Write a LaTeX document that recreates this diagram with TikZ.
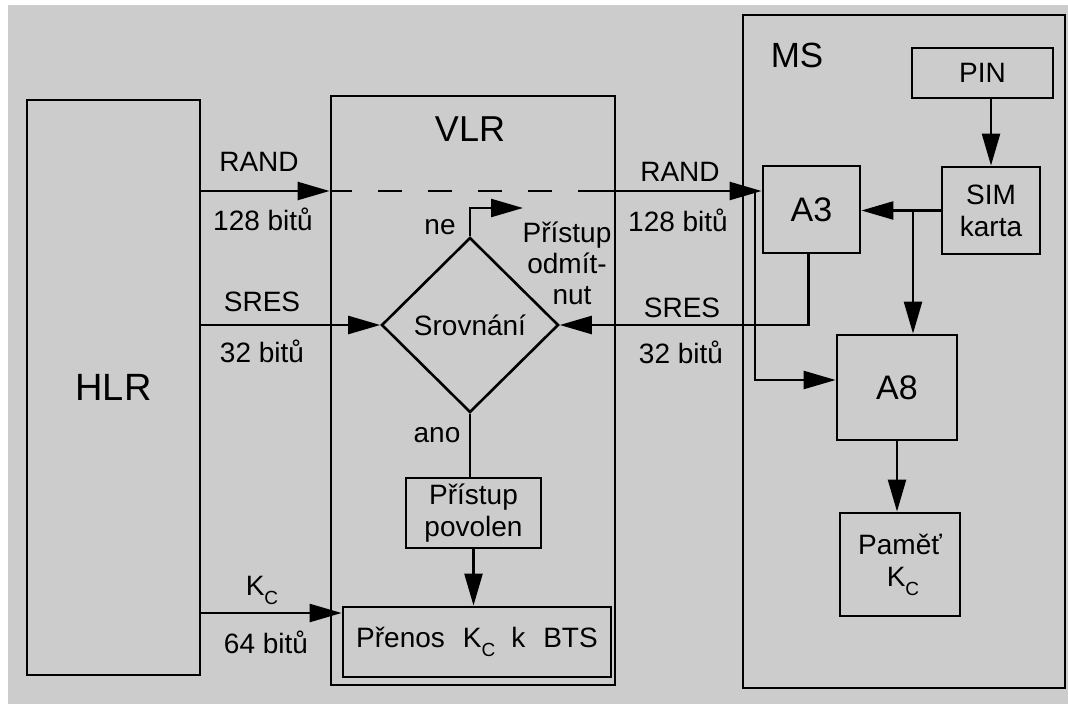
\documentclass[tikz,border=0pt]{standalone}
\usepackage{fontspec}
\setmainfont{Liberation Sans}
\usetikzlibrary{arrows.meta,shapes.geometric,calc}
\definecolor{bg}{RGB}{204,204,204}
\newcommand\Kc{K\raisebox{-0.32em}{\fontsize{19}{19}\selectfont C}}
\begin{document}
\begin{tikzpicture}[x=1pt,y=-1pt,
  box/.style={draw,line width=2.8pt,inner sep=0pt,align=center,font=\fontsize{28}{32}\selectfont},
  txt/.style={inner sep=0pt,align=center,font=\fontsize{28}{31}\selectfont},
  big/.style={inner sep=0pt,font=\fontsize{36}{40}\selectfont},
  ln/.style={line width=2.4pt},
  arr/.style={line width=2.4pt,-{Triangle[length=32pt,width=18pt]}},
  dsh/.style={line width=2.4pt,dash pattern=on 24pt off 26pt,dash phase=24pt}]
\useasboundingbox (0,0) rectangle (1068,704);
\fill[white] (0,0) rectangle (1068,704);
\fill[bg] (8,5) rectangle (1068,704);

% main boxes
\node[box,minimum width=173pt,minimum height=575pt,font=\fontsize{38}{42}\selectfont] (HLR) at (113.5,387.5) {HLR};
\node[box,minimum width=284pt,minimum height=589pt] (VLR) at (473,390.5) {};
\node[big] (VLRl) at (470,129) {VLR};
\node[box,minimum width=322pt,minimum height=673pt] (MS) at (904,351.5) {};
\node[big,font=\fontsize{35}{40}\selectfont] (MSl) at (797,55) {MS};

% MS inner
\node[box,minimum width=141pt,minimum height=50pt] (PIN) at (982.5,73) {PIN};
\node[box,minimum width=98pt,minimum height=87pt] (SIM) at (991,210.5) {SIM\\karta};
\node[box,minimum width=97pt,minimum height=87pt,font=\fontsize{34}{38}\selectfont] (A3) at (811.5,209.5) {A3};
\node[box,minimum width=120pt,minimum height=105pt,font=\fontsize{34}{38}\selectfont] (A8) at (897,387.5) {A8};
\node[box,minimum width=120pt,minimum height=103pt] (Pam) at (900,564.5) {Paměť\\\hspace*{6pt}\Kc};

% VLR inner
\node[draw,line width=2.6pt,diamond,aspect=1,inner sep=0pt,minimum width=177pt,minimum height=175pt,font=\fontsize{28}{32}\selectfont] (D) at (470,325) {Srovnání};
\node[box,minimum width=135pt,minimum height=70pt] (Pov) at (473.5,513) {Přístup\\povolen};
\node[box,minimum width=268pt,minimum height=70pt] (Pren) at (477,642) {Přenos\hspace{18pt}\Kc\hspace{16pt}k\hspace{18pt}BTS};

% labels
\node[txt] (lRand) at (259,162) {RAND};
\node[txt] (lRandb) at (263,219) {128 bitů};
\node[txt] (rRand) at (680,172) {RAND};
\node[txt] (rRandb) at (678,220) {128 bitů};
\node[txt] (lSres) at (262,302) {SRES};
\node[txt] (lSresb) at (262,351) {32 bitů};
\node[txt] (rSres) at (682,308) {SRES};
\node[txt] (rSresb) at (681,352) {32 bitů};
\node[txt] (lKc) at (262,590) {\Kc};
\node[txt] (lKcb) at (266,642) {64 bitů};
\node[txt] (ne) at (440,227) {ne};
\node[txt] (odm) at (567,263) {Přístup\\odmít-\\\hspace*{10pt}nut};
\node[txt] (ano) at (437,435) {ano};

% coordinates
\coordinate (rY) at (0,191);
\coordinate (dS) at (352,191);
\coordinate (dE) at (578,191);
\coordinate (rb) at (755,191);
\coordinate (a8y) at (0,380);
\coordinate (sb) at (913,210.5);
\coordinate (neE) at (523,208);
\coordinate (kY) at (0,613);

% connectors
\draw[arr] (HLR.east |- rY) -- (VLR.west |- rY);
\draw[ln] (VLR.west |- rY) -- (dS);
\draw[dsh] (dS) -- (dE);
\draw[arr] (dE) -- (A3.west |- rY);
\draw[arr] (rb) |- (A8.west |- a8y);
\draw[arr] (HLR.east |- D.west) -- (D.west);
\draw[arr] ($(A3.south)+(-3,0)$) |- (D.east);
\draw[arr] (SIM.west) -- (SIM.west -| A3.east);
\draw[arr] (sb) -- (sb |- A8.north);
\draw[arr] (PIN.south -| SIM.north) -- (SIM.north);
\draw[arr] (A8.south) -- (A8.south |- Pam.north);
\draw[arr] (D.north) |- (neE);
\draw[ln] (D.south) -- (D.south |- Pov.north);
\draw[arr] (Pov.south) -- (Pov.south |- Pren.north);
\draw[arr] (HLR.east |- kY) -- (Pren.west |- kY);
\end{tikzpicture}
\end{document}
